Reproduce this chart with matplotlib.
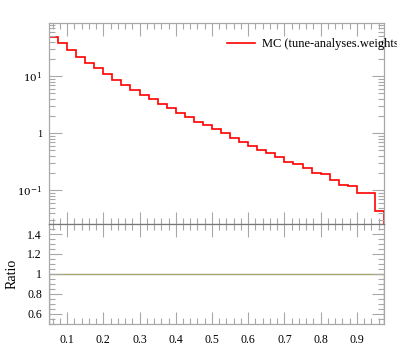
import numpy as np
import matplotlib
matplotlib.use('Agg')
import matplotlib.pyplot as plt
from matplotlib.ticker import MultipleLocator, LogLocator, NullFormatter, FixedLocator, FixedFormatter

plt.rcParams['font.family'] = ['Liberation Serif', 'DejaVu Serif']
plt.rcParams['mathtext.fontset'] = 'dejavuserif'

# bin edges (x) and MC histogram contents
edges = [0.05, 0.075, 0.1, 0.125, 0.15, 0.175, 0.2, 0.225, 0.25, 0.275,
         0.3, 0.325, 0.35, 0.375, 0.4, 0.425, 0.45, 0.475, 0.5, 0.525,
         0.55, 0.575, 0.6, 0.625, 0.65, 0.675, 0.7, 0.725, 0.75, 0.775,
         0.8, 0.825, 0.85, 0.875, 0.9, 0.925, 0.95, 0.975]
mc = [49.5, 37.9, 29.3, 22.1, 17.3, 13.8, 10.8, 8.51, 7.03, 5.75,
      4.70, 3.95, 3.33, 2.75, 2.27, 1.93, 1.60, 1.40, 1.21, 1.00,
      0.837, 0.713, 0.606, 0.509, 0.457, 0.388, 0.313, 0.293, 0.246, 0.199,
      0.191, 0.150, 0.124, 0.117, 0.0885, 0.0885, 0.0438]
label = 'MC (tune-analyses.weights)'

edges = np.array(edges)
mc = np.array(mc)
ratio = mc / mc

W, H = 397, 358
fig = plt.figure(figsize=(W / 100, H / 100), dpi=100)
ax = fig.add_axes([49 / W, 1 - 224 / H, 335 / W, 201 / H])
rax = fig.add_axes([49 / W, 1 - 324 / H, 335 / W, 100 / H], sharex=ax)

grey = '#a8a8a8'

# main panel
ax.stairs(mc, edges, color='red', lw=1.2)
ax.set_yscale('log')
ax.set_xlim(0.05, 0.975)
ax.set_ylim(0.0257, 86)
ax.yaxis.set_major_locator(FixedLocator([0.1, 1, 10]))
ax.yaxis.set_major_formatter(FixedFormatter([r'$10^{-1}$', '1', r'$10^{1}$']))
ax.yaxis.set_minor_locator(LogLocator(base=10, subs=np.arange(2, 10)))
ax.yaxis.set_minor_formatter(NullFormatter())
ax.tick_params(labelbottom=False)

handle, = ax.plot([], [], color='red', lw=1.2)
ax.legend([handle], [label], loc='center left', frameon=False,
          bbox_to_anchor=(227 / W, 1 - 44 / H), bbox_transform=fig.transFigure,
          borderpad=0, borderaxespad=0, handlelength=2.2, handletextpad=0.6,
          fontsize=9)

# ratio panel
rax.stairs(ratio, edges, color='#a3a36c', lw=1.0)
rax.set_ylim(0.5, 1.5)
rax.yaxis.set_minor_locator(MultipleLocator(0.05))
rax.set_yticks([0.6, 0.8, 1.0, 1.2, 1.4])
rax.set_yticklabels(['0.6', '0.8', '1', '1.2', '1.4'])
rax.set_ylabel('Ratio', fontsize=10)
rax.yaxis.set_label_coords(-30 / 335, 0.5)
rax.xaxis.set_major_locator(MultipleLocator(0.1))
rax.xaxis.set_minor_locator(MultipleLocator(0.02))
rax.set_xlim(0.05, 0.975)

for a in (ax, rax):
    a.tick_params(which='both', direction='in', top=True, right=True,
                  color=grey, labelsize=8.5, pad=5)
    a.tick_params(which='major', length=9, width=0.8)
    a.tick_params(which='minor', length=4.5, width=0.8)
    for s in a.spines.values():
        s.set_color(grey)
        s.set_linewidth(0.9)
ax.tick_params(axis='y', labelsize=7.5)
rax.spines['top'].set_color('#777777')
rax.tick_params(axis='x', pad=7)

fig.savefig('out.png', dpi=100)
